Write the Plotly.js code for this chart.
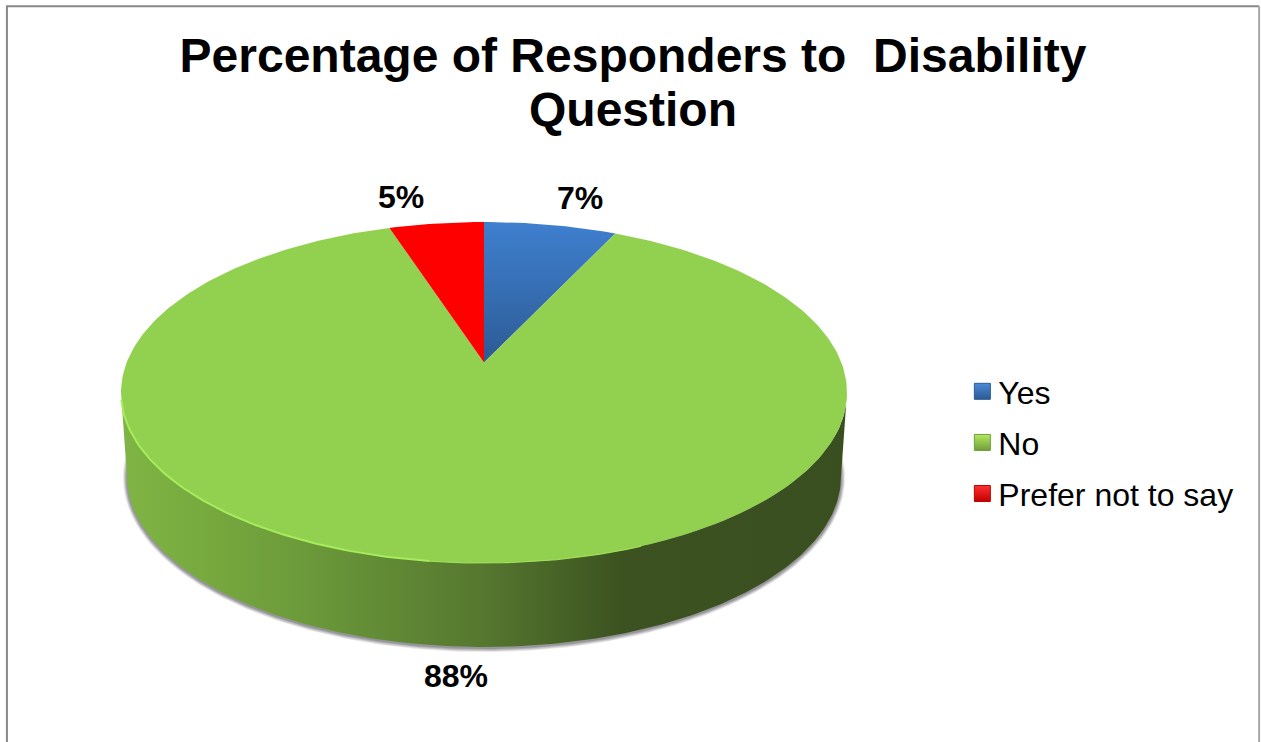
<!DOCTYPE html>
<html>
<head>
<meta charset="utf-8">
<title>Percentage of Responders to Disability Question</title>
<script src="https://cdn.plot.ly/plotly-3.0.1.min.js"></script>
<style>html,body{margin:0;padding:0;background:#fff;overflow:hidden}</style>
</head>
<body>
<div id="chart" style="width:1261px;height:742px"></div>
<script>
// Survey results
const categories = ['Yes', 'No', 'Prefer not to say'];
const percentages = [7, 88, 5];
const chartTitle = 'Percentage of Responders to\u00a0 Disability<br>Question';

// Disc geometry in axis units (1 unit = 1 screen pixel, y up, disc centre at origin)
const RX = 363, RY = 170.5, DEPTH = 84, BASE_RX = 357;
const TILT = 30 / 170.5;   // how far perspective pushes the hub towards the far edge

// Point on the top face for a cumulative share of the circle (clockwise from 12 o'clock)
function facePoint(share) {
  const a = 2 * Math.PI * share, u = Math.sin(a), v = Math.cos(a);
  const d = 1 + TILT * v, k = Math.sqrt(1 - TILT * TILT);
  return [RX * u * k / d, RY * (v + TILT) / d];
}
function faceArc(from, to) {
  const n = Math.max(2, Math.ceil(Math.abs(to - from) * 360));
  const pts = [];
  for (let i = 0; i <= n; i++) pts.push(facePoint(from + (to - from) * i / n));
  return pts;
}
function ellipseArc(cy, rx, ry, fromDeg, toDeg) {
  const pts = [], n = 240;
  for (let i = 0; i <= n; i++) {
    const t = (fromDeg + (toDeg - fromDeg) * i / n) * Math.PI / 180;
    pts.push([rx * Math.cos(t), cy + ry * Math.sin(t)]);
  }
  return pts;
}
const xs = p => p.map(q => q[0]);
const ys = p => p.map(q => q[1]);

const traces = [];

// Soft contact shadow around the base
[[4, 0.14], [3, 0.18], [2, 0.22], [1, 0.26]].forEach(([g, alpha]) => {
  const arc = ellipseArc(-DEPTH - 1, BASE_RX + g, RY + g, 15, -195);
  traces.push({x: xs(arc), y: ys(arc), mode: 'lines', fill: 'toself', line: {width: 0},
    fillcolor: `rgba(80,80,85,${alpha})`, showlegend: false, hoverinfo: 'skip'});
});

// Side wall of the disc, shaded from left to right
const wall = ellipseArc(0, RX, RY, 180, 360).concat(ellipseArc(-DEPTH, BASE_RX, RY, 360, 180));
traces.push({x: xs(wall), y: ys(wall), mode: 'lines', fill: 'toself', line: {width: 0},
  legendgroup: categories[1], showlegend: false, hoverinfo: 'skip',
  fillgradient: {type: 'horizontal', start: -RX, stop: RX, colorscale: [
    [0, '#80b545'], [0.1, '#78ab3f'], [0.25, '#6c9a3a'], [0.5, '#55772f'], [0.69, '#3c5220'], [1, '#3a4f20']]}});

// Top face: one wedge per category
const wedgeFills = [
  {fillgradient: {type: 'vertical', colorscale: [[0, '#2c5a94'], [0.5, '#366eb2'], [1, '#3f7fcf']]}},
  {fillcolor: '#92d050'},
  {fillcolor: '#ff0000'}
];
let running = 0;
const total = percentages.reduce((a, b) => a + b, 0);
percentages.forEach((v, i) => {
  const start = running / total, end = (running + v) / total;
  running += v;
  const poly = [[0, RY * TILT]].concat(faceArc(start, end));
  traces.push(Object.assign({x: xs(poly), y: ys(poly), mode: 'lines', fill: 'toself',
    line: {width: 0}, legendgroup: categories[i], showlegend: false,
    name: categories[i], text: `${categories[i]}: ${v}%`, hoverinfo: 'text', hoveron: 'fills'},
    wedgeFills[i]));
});

// Highlight along the near rim of the top face
const rimBright = faceArc(0.715, 0.52), rimFaint = faceArc(0.52, 0.44);
traces.push({x: xs(rimBright), y: ys(rimBright), mode: 'lines',
  line: {color: '#a6ec5c', width: 2}, showlegend: false, hoverinfo: 'skip'});
traces.push({x: xs(rimFaint), y: ys(rimFaint), mode: 'lines',
  line: {color: '#9fdf58', width: 1.2}, showlegend: false, hoverinfo: 'skip'});

// Legend keys
const keyColours = [['#4a8ad6', '#2c5a94'], ['#b4e85f', '#6f9e3a'], ['#ff3030', '#c00000']];
categories.forEach((c, i) => {
  traces.push({x: [null], y: [null], mode: 'markers', name: c, legendgroup: c,
    marker: {symbol: 'square', size: 16, color: keyColours[i][0],
      gradient: {type: 'vertical', color: keyColours[i][1]},
      line: {color: keyColours[i][1], width: 1}}});
});

// Value labels placed beside their wedges
const labelSpots = [[96, 195], [-28, -283], [-83, 196]];
const annotations = percentages.map((v, i) => ({
  x: labelSpots[i][0], y: labelSpots[i][1], xref: 'x', yref: 'y', text: `${v}%`,
  showarrow: false, font: {family: 'Liberation Sans, Arial, sans-serif', size: 32, color: '#000', weight: 700}
}));

const frame = {type: 'line', xref: 'paper', yref: 'paper'};
const layout = {
  width: 1261, height: 742,
  margin: {l: 0, r: 0, t: 0, b: 0},
  paper_bgcolor: '#fff', plot_bgcolor: 'rgba(0,0,0,0)',
  title: {text: chartTitle, x: 0.502, xanchor: 'center', y: 0.9027, yanchor: 'top',
    font: {family: 'Liberation Sans, Arial, sans-serif', size: 48, color: '#000', weight: 700}},
  xaxis: {visible: false, range: [-484, 777], fixedrange: true},
  yaxis: {visible: false, range: [-349.5, 392.5], fixedrange: true},
  showlegend: true,
  legend: {x: 0.76, xanchor: 'left', y: 0.5094, yanchor: 'top', traceorder: 'grouped', tracegroupgap: 6.5,
    bgcolor: 'rgba(0,0,0,0)', font: {family: 'Liberation Sans, Arial, sans-serif', size: 32, color: '#000'}},
  annotations: annotations,
  shapes: [
    Object.assign({}, frame, {x0: 0.0055, x1: 0.0055, y0: 0, y1: 0.9915, line: {color: '#888888', width: 2}}),
    Object.assign({}, frame, {x0: 0.0048, x1: 0.9985, y0: 0.9915, y1: 0.9915, line: {color: '#888888', width: 2}}),
    Object.assign({}, frame, {x0: 0.9985, x1: 0.9985, y0: 0, y1: 0.9915, line: {color: '#a8a8a8', width: 2}})
  ]
};

Plotly.newPlot('chart', traces, layout, {displayModeBar: false}).then(() => {
  // Tighter leading for the two-line title, and legend keys closer to their labels
  const lines = document.querySelectorAll('.gtitle tspan.line');
  if (lines.length > 1) {
    lines[1].setAttribute('y', parseFloat(lines[1].getAttribute('y')) - 8.5);
  }
  document.querySelectorAll('.legend .legendsymbols').forEach(g => g.setAttribute('transform', 'translate(4,0)'));
});
</script>
</body>
</html>
